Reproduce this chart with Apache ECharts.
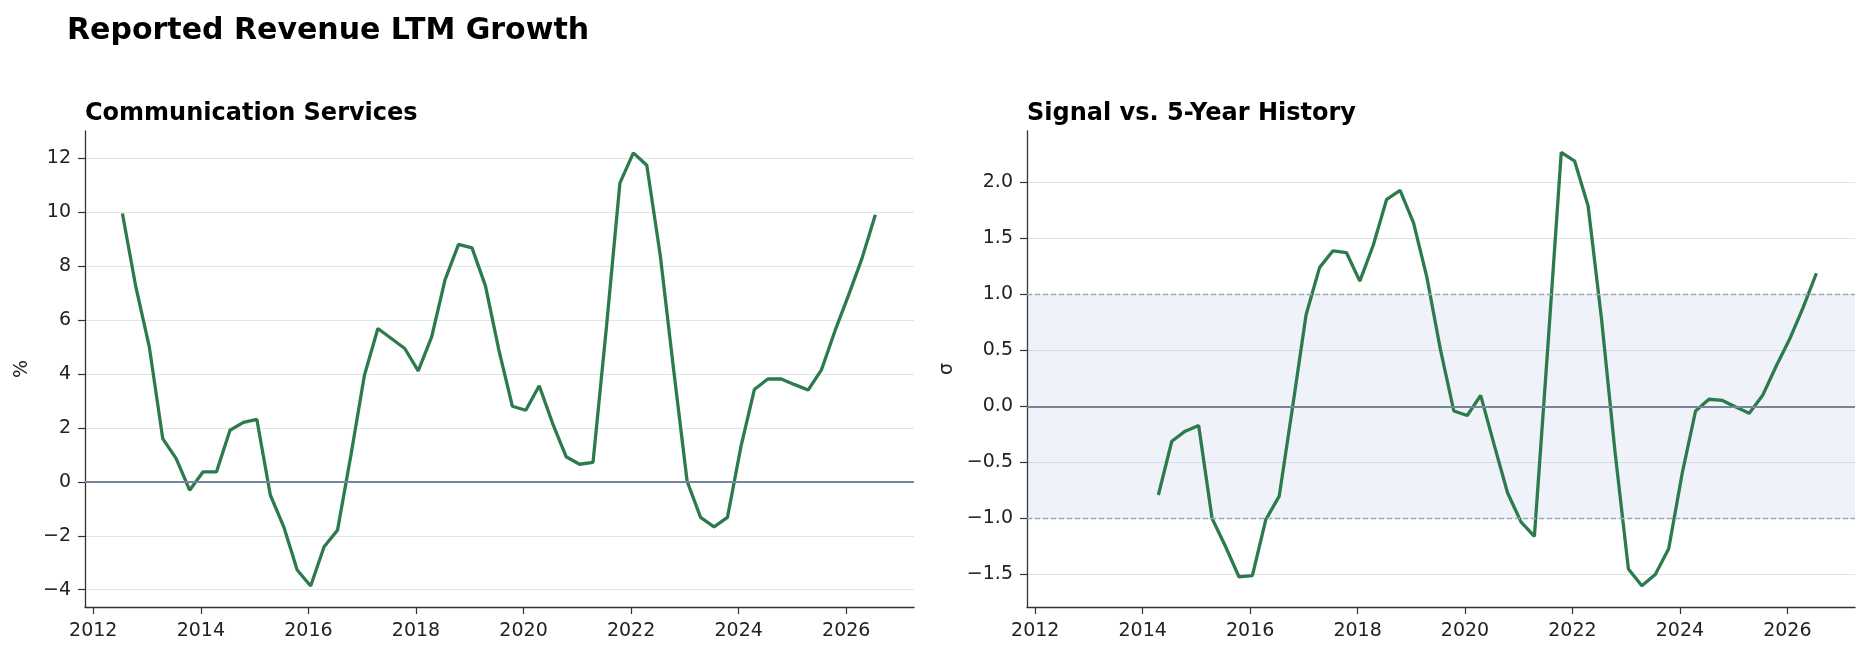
<!DOCTYPE html>
<html>
<head>
<meta charset="utf-8">
<script src="https://cdn.jsdelivr.net/npm/echarts@6/dist/echarts.min.js"></script>
<style>
  html, body { margin: 0; padding: 0; background: #fff; }
  #chart { width: 1869px; height: 656px; }
</style>
</head>
<body>
<div id="chart"></div>
<script>
// quarterly observation dates (mid-month)
const dates = [
  '2012-07', '2012-10', '2013-01', '2013-04', '2013-07', '2013-10', '2014-01', '2014-04',
  '2014-07', '2014-10', '2015-01', '2015-04', '2015-07', '2015-10', '2016-01', '2016-04',
  '2016-07', '2016-10', '2017-01', '2017-04', '2017-07', '2017-10', '2018-01', '2018-04',
  '2018-07', '2018-10', '2019-01', '2019-04', '2019-07', '2019-10', '2020-01', '2020-04',
  '2020-07', '2020-10', '2021-01', '2021-04', '2021-07', '2021-10', '2022-01', '2022-04',
  '2022-07', '2022-10', '2023-01', '2023-04', '2023-07', '2023-10', '2024-01', '2024-04',
  '2024-07', '2024-10', '2025-01', '2025-04', '2025-07', '2025-10', '2026-01', '2026-04',
  '2026-07'
];

// reported revenue LTM growth, %
const growth = [
  9.94, 7.22, 5.0, 1.6, 0.86, -0.31, 0.37, 0.37, 1.91, 2.2,
  2.31, -0.49, -1.67, -3.27, -3.86, -2.41, -1.79, 1.0, 3.95, 5.68,
  5.31, 4.94, 4.11, 5.37, 7.49, 8.80, 8.67, 7.26, 4.88, 2.80,
  2.65, 3.56, 2.16, 0.93, 0.65, 0.72, 5.74, 11.07, 12.19, 11.73,
  8.40, 4.14, 0.02, -1.32, -1.67, -1.32, 1.30, 3.42, 3.81, 3.81,
  3.60, 3.40, 4.16, 5.6, 6.91, 8.27, 9.90
];

// z-score vs 5-year history
const signal = [
  null, null, null, null, null, null, null,
  -0.79, -0.31, -0.22, -0.17, -1.0, -1.25, -1.52, -1.51, -1.01, -0.80,
  0.0, 0.82, 1.24, 1.39, 1.375, 1.12, 1.44, 1.85, 1.93, 1.64,
  1.15, 0.51, -0.04, -0.08, 0.10, -0.34, -0.77, -1.03, -1.16, 0.53,
  2.27, 2.19, 1.79, 0.78, -0.40, -1.45, -1.60, -1.50, -1.27, -0.60,
  -0.04, 0.065, 0.054, -0.005, -0.06, 0.10, 0.36, 0.60, 0.88, 1.19
];

const yearTicks = [2012, 2014, 2016, 2018, 2020, 2022, 2024, 2026];
const growthTicks = [-4, -2, 0, 2, 4, 6, 8, 10, 12];
const signalTicks = [-1.5, -1.0, -0.5, 0.0, 0.5, 1.0, 1.5, 2.0];

const FONT = 'DejaVu Sans';
const GREEN = '#2c7b4d';
const SPINE = '#333333';

function toYear(d) {
  const [y, m] = d.split('-').map(Number);
  return y + (m - 0.5) / 12;
}
function pairs(vals) {
  return dates.map((d, i) => [toYear(d), vals[i]]).filter(p => p[1] != null);
}
function minus(s) { return String(s).replace('-', '\u2212'); }

function xAxisFor(idx) {
  return {
    type: 'value', gridIndex: idx, min: 2011.846, max: 2027.26,
    axisLine: { show: true, onZero: false, lineStyle: { color: SPINE, width: 1.3 } },
    axisTick: { show: true, length: 7, lineStyle: { color: SPINE, width: 1.2 }, customValues: yearTicks },
    axisLabel: { color: '#222', fontFamily: FONT, fontSize: 19, margin: 15, customValues: yearTicks,
      formatter: v => String(Math.round(v)) },
    splitLine: { show: false }
  };
}
function yAxisFor(idx, min, max, ticks, fmt, name, gap) {
  return {
    type: 'value', gridIndex: idx, min: min, max: max,
    name: name, nameLocation: 'middle', nameRotate: 90, nameGap: gap,
    nameTextStyle: { color: '#222', fontFamily: FONT, fontSize: 19 },
    axisLine: { show: true, onZero: false, lineStyle: { color: SPINE, width: 1.3 } },
    axisTick: { show: true, length: 7, lineStyle: { color: SPINE, width: 1.2 }, customValues: ticks },
    axisLabel: { color: '#222', fontFamily: FONT, fontSize: 19, margin: 14, customValues: ticks,
      formatter: fmt },
    splitLine: { show: true, lineStyle: { color: '#e1e3ea', width: 1 } }
  };
}

const chart = echarts.init(document.getElementById('chart'), null, { renderer: 'canvas' });

const option = {
  animation: false,
  backgroundColor: '#fff',
  title: [
    { text: 'Reported Revenue LTM Growth', left: 67, top: 16, padding: 0,
      textStyle: { fontFamily: FONT, fontSize: 30, fontWeight: 'bold', color: '#000' } },
    { text: 'Communication Services', left: 85, top: 102, padding: 0,
      textStyle: { fontFamily: FONT, fontSize: 24, fontWeight: 'bold', color: '#000' } },
    { text: 'Signal vs. 5-Year History', left: 1027, top: 102, padding: 0,
      textStyle: { fontFamily: FONT, fontSize: 24, fontWeight: 'bold', color: '#000' } }
  ],
  grid: [
    { left: 85, right: 955, top: 131, bottom: 49 },
    { left: 1027, right: 14, top: 131, bottom: 49 }
  ],
  xAxis: [xAxisFor(0), xAxisFor(1)],
  yAxis: [
    yAxisFor(0, -4.64, 13.0, growthTicks, v => minus(Math.round(v)), '%', 53),
    yAxisFor(1, -1.79, 2.46, signalTicks, v => minus(v.toFixed(1)), 'σ', 70)
  ],
  series: [
    {
      type: 'line', xAxisIndex: 0, yAxisIndex: 0, data: [], z: 1, silent: true,
      markLine: { symbol: 'none', silent: true, label: { show: false },
        data: [{ yAxis: 0, lineStyle: { color: '#778599', width: 1.8, type: 'solid' } }] }
    },
    {
      name: 'growth', type: 'line', xAxisIndex: 0, yAxisIndex: 0, z: 3,
      data: pairs(growth), symbol: 'none',
      lineStyle: { color: GREEN, width: 3.3 }
    },
    {
      type: 'line', xAxisIndex: 1, yAxisIndex: 1, data: [], z: 1, silent: true,
      markArea: { silent: true, itemStyle: { color: 'rgba(120,150,195,0.12)' },
        data: [[{ yAxis: -1 }, { yAxis: 1 }]] },
      markLine: { symbol: 'none', silent: true, label: { show: false },
        data: [
          { yAxis: 0, lineStyle: { color: '#778599', width: 1.8, type: 'solid' } },
          { yAxis: 1, lineStyle: { color: '#9aa6ba', width: 1.3, type: [5, 3] } },
          { yAxis: -1, lineStyle: { color: '#9aa6ba', width: 1.3, type: [5, 3] } }
        ] }
    },
    {
      name: 'signal', type: 'line', xAxisIndex: 1, yAxisIndex: 1, z: 3,
      data: pairs(signal), symbol: 'none',
      lineStyle: { color: GREEN, width: 3.3 }
    }
  ]
};

chart.setOption(option);
</script>
</body>
</html>
